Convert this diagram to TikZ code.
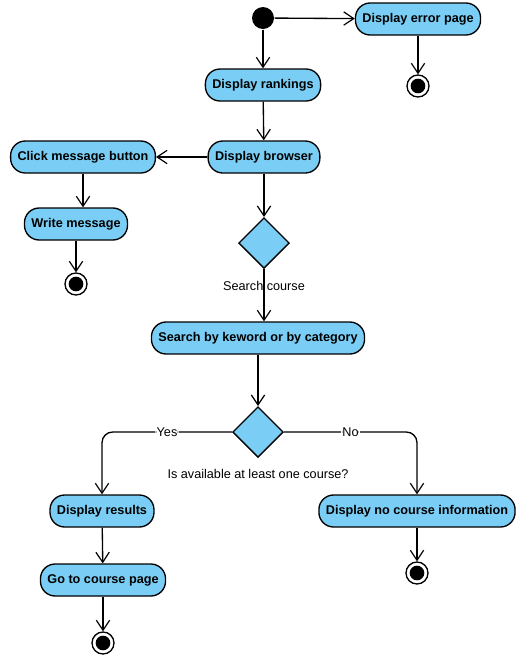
\documentclass[tikz,border=0pt]{standalone}
\usepackage{fontspec}
\setmainfont{Liberation Sans}
\usetikzlibrary{arrows.meta,positioning,shapes.geometric}
\definecolor{actblue}{RGB}{122,206,245}

\begin{document}
\begin{tikzpicture}[x=0.75pt,y=-0.75pt,line width=1pt,
  action/.style={draw,fill=actblue,rounded corners=11pt,minimum height=24pt,
    inner xsep=5.2pt,font=\fontsize{9.5}{11}\selectfont\bfseries},
  decision/.style={draw,fill=actblue,diamond,minimum width=38pt,minimum height=38pt,inner sep=0pt},
  initial/.style={circle,fill=black,minimum size=16.5pt,inner sep=0pt},
  final/.style={circle,draw,fill=white,minimum size=16.5pt,inner sep=0pt,
    path picture={\fill[black] (path picture bounding box.center) circle (5.5pt);}},
  flow/.style={-{Straight Barb[length=7.5pt,width=10pt,line width=0.9pt]}},
  guard/.style={font=\fontsize{9.5}{11}\selectfont}]
\useasboundingbox (0,0) rectangle (524,661);
% top row
\node[initial] (start) at (263,18) {};
\node[action] (error) at (418,19) {Display error page};
\node[final] (endA) at (418,86) {};
\node[action] (rank) at (263,85) {Display rankings};
\node[action] (browse) at (264,157) {Display browser};
% message branch
\node[action] (click) at (83,157) {Click message button};
\node[action] (write) at (76,224) {Write message};
\node[final] (endB) at (76,284) {};
% search
\node[decision,label={[guard,yshift=-5.5pt]below:Search course}] (dSearch) at (264,243) {};
\node[action] (search) at (258,338) {Search by keword or by category};
\node[decision,label={[guard,yshift=-5pt]below:Is available at least one course?}] (dFound) at (258,432) {};
% results
\node[action] (results) at (102,511) {Display results};
\node[action] (course) at (103,580) {Go to course page};
\node[final] (endC) at (103,643) {};
\node[action] (none) at (417,511) {Display no course information};
\node[final] (endD) at (417,573) {};

\draw[flow] (start) -- (rank);
\draw[flow] (start) -- (error);
\draw[flow] (error) -- (endA);
\draw[flow] (rank) -- (browse);
\draw[flow] (browse) -- (click);
\draw[flow] (click.south) -- (click.south |- write.north);
\draw[flow] (write) -- (endB);
\draw[flow] (browse) -- (dSearch);
\draw[flow] (dSearch.south) -- (dSearch.south |- search.north);
\draw[flow] (search.south -| dFound) -- (dFound);
\draw[flow,rounded corners=8pt] (dFound.west) -| node[guard,pos=0.25,fill=white,inner sep=1pt] {Yes} (results.north);
\draw[flow,rounded corners=8pt] (dFound.east) -| node[guard,pos=0.25,fill=white,inner sep=1pt] {No} (none.north);
\draw[flow] (results) -- (course);
\draw[flow] (course) -- (endC);
\draw[flow] (none) -- (endD);
\end{tikzpicture}
\end{document}
